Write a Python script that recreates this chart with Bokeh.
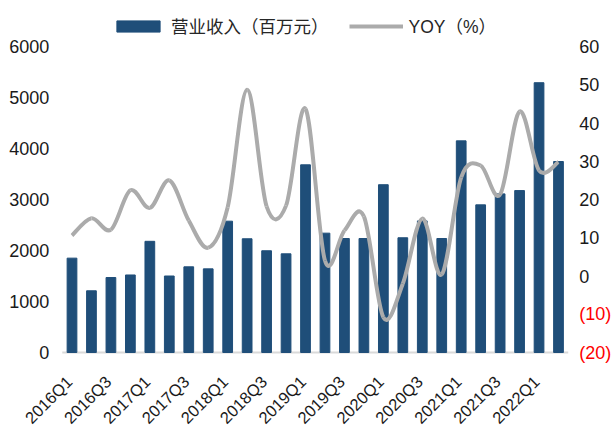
import math
from bokeh.plotting import figure
from bokeh.models import Range1d, Legend, LegendItem, ColumnDataSource
from bokeh.embed import file_html
from bokeh.resources import INLINE

# ---------------- data ----------------
quarters = ["2016Q1", "2016Q2", "2016Q3", "2016Q4",
            "2017Q1", "2017Q2", "2017Q3", "2017Q4",
            "2018Q1", "2018Q2", "2018Q3", "2018Q4",
            "2019Q1", "2019Q2", "2019Q3", "2019Q4",
            "2020Q1", "2020Q2", "2020Q3", "2020Q4",
            "2021Q1", "2021Q2", "2021Q3", "2021Q4",
            "2022Q1", "2022Q2"]
revenue = [1850, 1210, 1470, 1520, 2180, 1500, 1680, 1640,
           2575, 2230, 1995, 1935, 3680, 2340, 2235, 2235,
           3290, 2250, 2580, 2235, 4150, 2895, 3110, 3175,
           5290, 3745]
yoy = [10.6, 15.1, 12.1, 22.4, 17.8, 25.0, 14.5, 7.4,
       18.0, 48.7, 18.2, 18.4, 43.7, 4.0, 11.9, 15.6,
       -10.8, -2.0, 15.0, 0.4, 25.8, 28.9, 21.3, 43.0,
       27.6, 29.8]
left_ticks = [0, 1000, 2000, 3000, 4000, 5000, 6000]
left_labels = ["0", "1000", "2000", "3000", "4000", "5000", "6000"]
right_ticks = [60, 50, 40, 30, 20, 10, 0, -10, -20]
right_labels = ["60", "50", "40", "30", "20", "10", "0", "(10)", "(20)"]
series_names = ["营业收入（百万元）", "YOY（%）"]

# ---------------- style / layout constants ----------------
BAR_COLOR = "#1F4E79"
LINE_COLOR = "#ABABAB"
AXIS_COLOR = "#D9D9D9"
FONT = "Liberation Sans"
TXT = "#1a1a1a"
NEG = "#FF0000"

W, H = 612, 428
CAT_PX = 19.46            # pixels per category
FIRST_BAR_PX = 71.5       # first bar centre (canvas px)
Y0_PX = 352               # canvas y of the 0 line
YTOP_PX = 46              # canvas y of the top tick
n = len(quarters)
idx = list(range(n))

x_start = -FIRST_BAR_PX / CAT_PX
x_end = x_start + W / CAT_PX
lmax, lmin = max(left_ticks), min(left_ticks)
l_per_px = (lmax - lmin) / (Y0_PX - YTOP_PX)
rmax, rmin = max(right_ticks), min(right_ticks)
r_per_px = (rmax - rmin) / (Y0_PX - YTOP_PX)

p = figure(width=W, height=H, output_backend="svg", toolbar_location=None,
           x_axis_type=None, y_axis_type=None,
           x_range=Range1d(x_start, x_end),
           y_range=Range1d(lmin - (H - Y0_PX) * l_per_px,
                           lmax + YTOP_PX * l_per_px),
           min_border_left=0, min_border_right=0, min_border_top=0,
           min_border_bottom=0)
p.extra_y_ranges = {"yoy": Range1d(rmin - (H - Y0_PX) * r_per_px,
                                   rmax + YTOP_PX * r_per_px)}
p.outline_line_color = None
p.grid.visible = False
p.background_fill_color = "white"
p.border_fill_color = "white"

# baseline under the bars
p.segment(x0=[idx[0] - 0.5], x1=[idx[-1] + 0.5], y0=[0], y1=[0],
          line_color=AXIS_COLOR, line_width=2)

# bars
bars = p.vbar(x=idx, top=revenue, width=0.5, color=BAR_COLOR)

# smoothed YOY line as cubic Bezier segments (Catmull-Rom style, Excel-like)
x0, y0, x1, y1, cx0, cy0, cx1, cy1 = [], [], [], [], [], [], [], []
for i in range(n - 1):
    im1 = max(i - 1, 0)
    ip2 = min(i + 2, n - 1)
    xa_, ya_ = idx[i], yoy[i]
    xb_, yb_ = idx[i + 1], yoy[i + 1]
    x0.append(xa_); y0.append(ya_); x1.append(xb_); y1.append(yb_)
    cx0.append(xa_ + (xb_ - idx[im1]) / 6.0)
    cy0.append(ya_ + (yb_ - yoy[im1]) / 6.0)
    cx1.append(xb_ - (idx[ip2] - xa_) / 6.0)
    cy1.append(yb_ - (yoy[ip2] - ya_) / 6.0)
src = ColumnDataSource(dict(x0=x0, y0=y0, x1=x1, y1=y1,
                            cx0=cx0, cy0=cy0, cx1=cx1, cy1=cy1))
curve = p.bezier(x0="x0", y0="y0", x1="x1", y1="y1", cx0="cx0", cy0="cy0",
                 cx1="cx1", cy1="cy1", source=src, line_color=LINE_COLOR,
                 line_width=4, y_range_name="yoy")

# category labels (every second quarter), rotated 45 degrees
lab_idx = idx[::2]
p.text(x=lab_idx, y=[0] * len(lab_idx), text=[quarters[i] for i in lab_idx],
       angle=math.pi / 4, text_align="right", text_baseline="top",
       x_offset=-9, y_offset=20, text_font_size="16.5px",
       text_font={"value": FONT}, text_color=TXT)

# left value labels
p.text(x=[idx[0] - 0.5] * len(left_ticks), y=left_ticks, text=left_labels,
       text_align="right", text_baseline="middle", x_offset=-13,
       text_font_size="18px", text_font={"value": FONT}, text_color=TXT)

# right-hand value labels for the YOY scale (negatives in red)
rsrc = ColumnDataSource(dict(
    x=[idx[-1] + 0.5] * len(right_ticks), y=right_ticks, text=right_labels,
    color=[NEG if v < 0 else TXT for v in right_ticks]))
p.text(x="x", y="y", text="text", source=rsrc, y_range_name="yoy",
       text_align="left", text_baseline="middle", x_offset=11,
       text_font_size="18px", text_font={"value": FONT}, text_color="color")

legend = Legend(items=[LegendItem(label=series_names[0], renderers=[bars]),
                       LegendItem(label=series_names[1], renderers=[curve])],
                orientation="horizontal", location=(111, 390),
                glyph_width=54, glyph_height=14, spacing=20, padding=0,
                margin=0, label_standoff=6, label_height=14,
                label_text_font="Liberation Sans, Noto Sans CJK SC",
                label_text_font_size="17.5px", label_text_color="#262626",
                border_line_color=None, background_fill_alpha=0)
p.add_layout(legend, "center")

open("out.html", "w").write(file_html(p, INLINE))
